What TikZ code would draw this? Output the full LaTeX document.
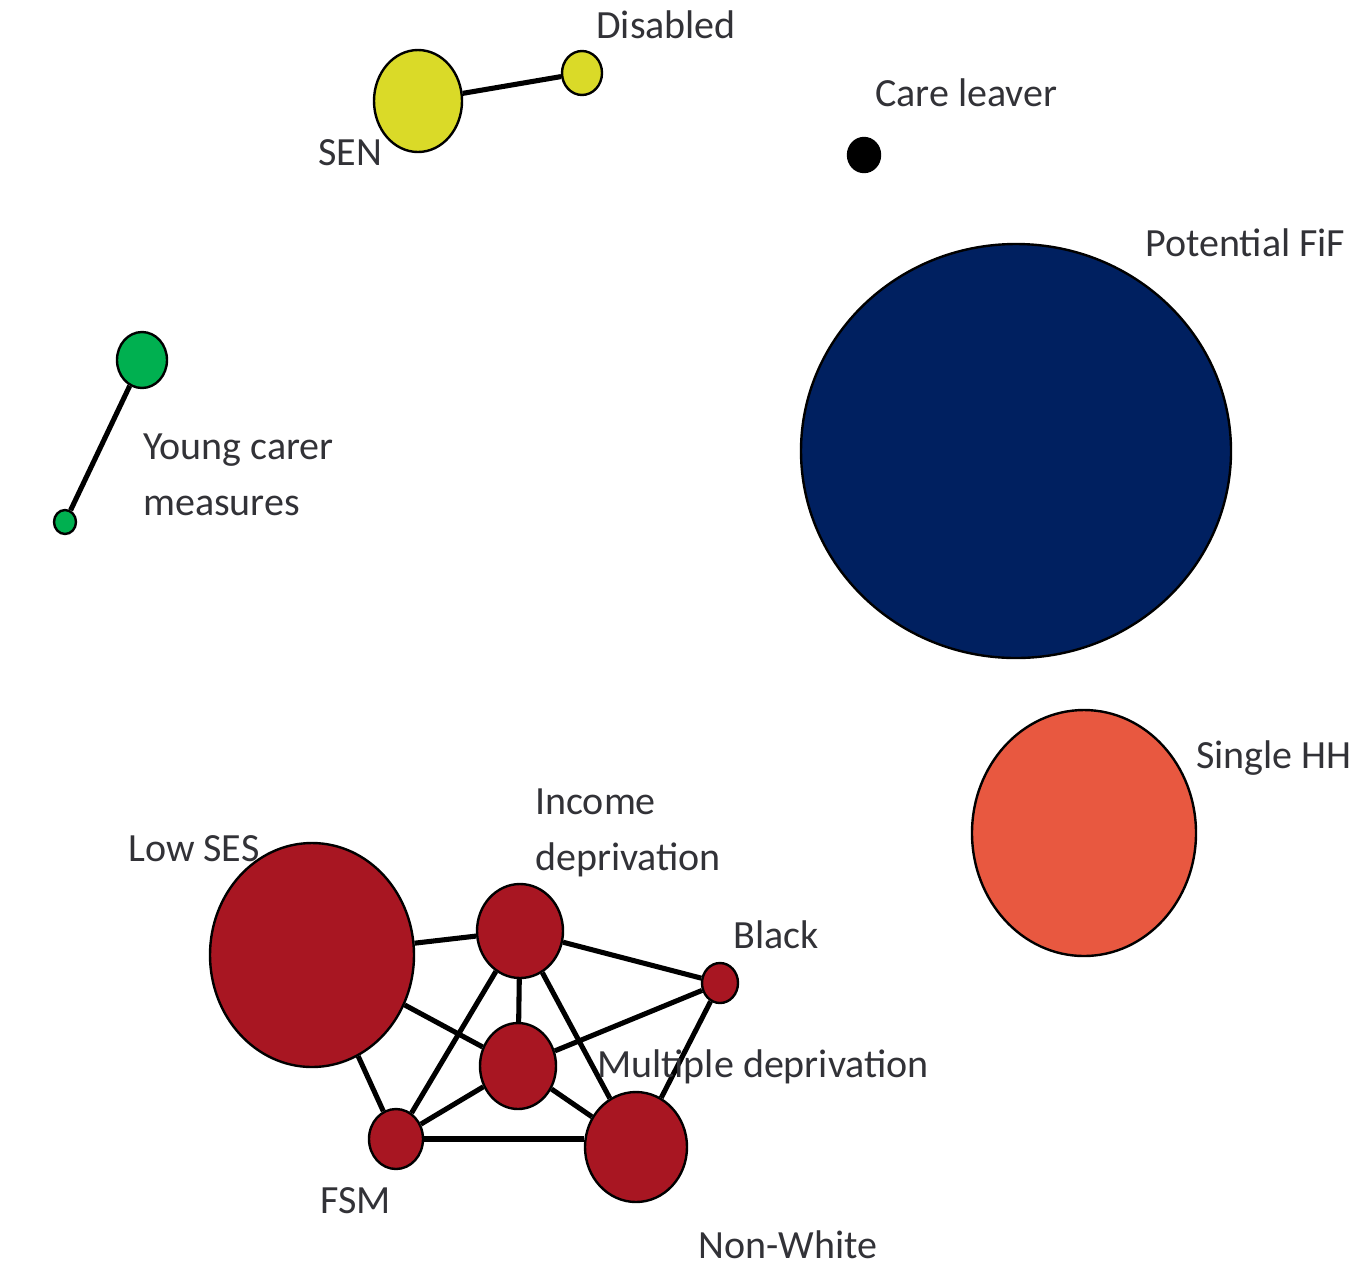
\documentclass[tikz,border=0pt]{standalone}
\usepackage{fontspec}
\setmainfont{Carlito}
\usetikzlibrary{shapes.geometric}

\definecolor{senyellow}{RGB}{218,218,40}
\definecolor{carergreen}{RGB}{0,176,80}
\definecolor{fifnavy}{RGB}{0,32,96}
\definecolor{hhorange}{RGB}{232,88,64}
\definecolor{sesred}{RGB}{168,22,34}
\definecolor{lblgray}{RGB}{50,50,55}

\begin{document}
\begin{tikzpicture}[x=0.75pt,y=0.75pt,yscale=-1,xscale=1,
  blob/.style={ellipse,draw,line width=1.8pt,inner sep=0pt},
  tie/.style={line width=3.8pt},
  lbl/.style={inner sep=0pt,text=lblgray,font=\fontsize{30}{42}\selectfont,align=left}]

\useasboundingbox (0,0) rectangle (1358,1268);

% yellow pair
\node [blob,fill=senyellow,minimum width=66pt,minimum height=76.5pt] (sen) at (418,101) {};
\node [blob,fill=senyellow,minimum width=30pt,minimum height=33pt] (disabled) at (582,73) {};
\draw [tie] (sen) -- (disabled);

% care leaver
\node [blob,fill=black,minimum width=24pt,minimum height=25.5pt] (care) at (864,155) {};

% young carer pair
\node [blob,fill=carergreen,minimum width=37.5pt,minimum height=42pt] (carerA) at (142,360) {};
\node [blob,fill=carergreen,minimum width=16.5pt,minimum height=18pt] (carerB) at (65,522) {};
\draw [tie] (carerA) -- (carerB);

% big ones
\node [blob,fill=fifnavy,minimum width=322.5pt,minimum height=310.5pt] (fif) at (1016,451) {};
\node [blob,fill=hhorange,minimum width=168pt,minimum height=184.5pt] (singlehh) at (1084,833) {};

% red cluster
\node [blob,fill=sesred,minimum width=153pt,minimum height=168pt] (lowses) at (312,955) {};
\node [blob,fill=sesred,minimum width=64.5pt,minimum height=70.5pt] (income) at (520,931) {};
\node [blob,fill=sesred,minimum width=27pt,minimum height=30pt] (black) at (720,983) {};
\node [blob,fill=sesred,minimum width=57pt,minimum height=64.5pt] (multiple) at (518,1066) {};
\node [blob,fill=sesred,minimum width=40.5pt,minimum height=45pt] (fsm) at (396,1139) {};
\node [blob,fill=sesred,minimum width=76.5pt,minimum height=82.5pt] (nonwhite) at (636,1147) {};

\draw [tie] (lowses) -- (income);
\draw [tie] (lowses) -- (multiple);
\draw [tie] (lowses) -- (fsm);
\draw [tie] (income) -- (black);
\draw [tie] (income) -- (multiple);
\draw [tie] (income) -- (fsm);
\draw [tie] (income) -- (nonwhite);
\draw [tie] (multiple) -- (black);
\draw [tie] (multiple) -- (fsm);
\draw [tie] (multiple) -- (nonwhite);
\draw [tie] (black) -- (nonwhite);
\draw [tie] (fsm) -- (fsm -| nonwhite.west);

% labels
\node [lbl,anchor=base west] (lbldisabled) at (596,38) {Disabled};
\node [lbl,anchor=base west] (lblsen) at (318,165) {SEN};
\node [lbl,anchor=base west] (lblcare) at (875,106) {Care leaver};
\node [lbl,anchor=base west] (lblfif) at (1145,256) {Potential FiF};
\node [lbl,anchor=west] (lblcarer) at (143,475) {Young carer\\measures};
\node [lbl,anchor=base west] (lblhh) at (1196,768) {Single HH};
\node [lbl,anchor=base west] (lblses) at (128,861) {Low SES};
\node [lbl,anchor=west] (lblincome) at (535,833) {Income\\deprivation};
\node [lbl,anchor=base west] (lblblack) at (733,948) {Black};
\node [lbl,anchor=base west] (lblmultiple) at (597,1077) {Multiple deprivation};
\node [lbl,anchor=base west] (lblfsm) at (320,1213) {FSM};
\node [lbl,anchor=base west] (lblnonwhite) at (698,1258) {Non-White};

\end{tikzpicture}
\end{document}
